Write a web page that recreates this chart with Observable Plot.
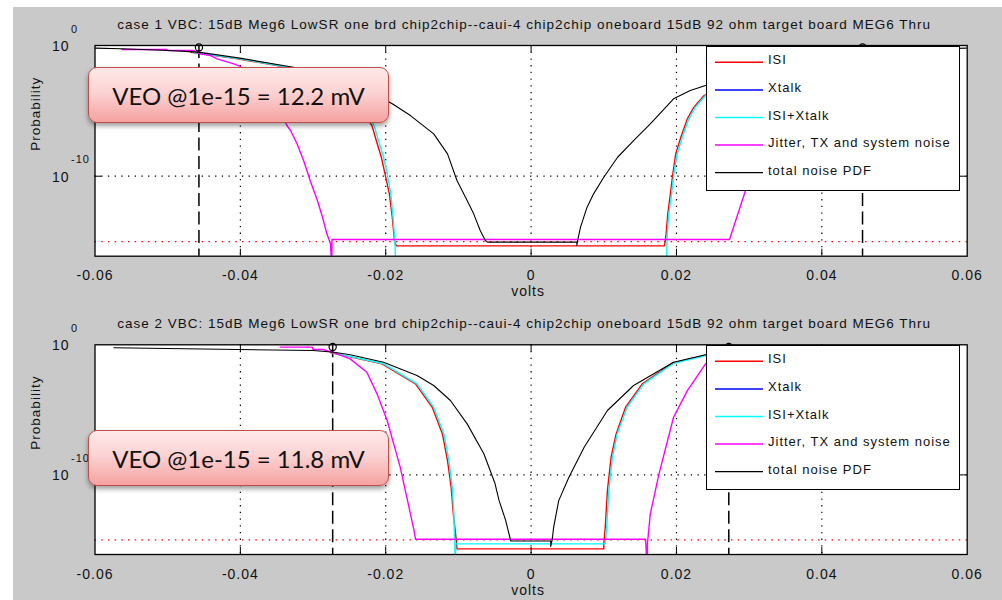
<!DOCTYPE html>
<html>
<head>
<meta charset="utf-8">
<script src="https://cdn.jsdelivr.net/npm/d3@7"></script>
<script src="https://cdn.jsdelivr.net/npm/@observablehq/plot@0.6"></script>
<style>
  body { margin: 0; width: 1002px; height: 600px; position: relative; overflow: hidden; background: #fff; font-family: "Liberation Sans", Arial, sans-serif; }
  #bg { position: absolute; left: 13px; top: 7px; right: 0; bottom: 0; background: #c9c9c9; }
  .panel { position: absolute; left: 0; width: 1002px; height: 300px; }
  .panel svg { display: block; }
  .panel svg text { letter-spacing: 1px; fill: #111; }
  .panel svg g[aria-label="title"] text { letter-spacing: 1.05px; }
  .legend { position: absolute; left: 705.7px; width: 252px; height: 143px; background: #fff; border: 1px solid #000; }
  .legend svg { display: block; }
  .legend text { font-family: "Liberation Sans", Arial, sans-serif; font-size: 13px; letter-spacing: 1px; fill: #111; }
  .callout { position: absolute; left: 88px; width: 299px; height: 54px; border: 1.6px solid #bf4e4b; border-radius: 9px;
    background: linear-gradient(#ffe9e9 0%, #fcd3d3 45%, #f5a2a1 100%);
    box-shadow: 0 3px 5px rgba(0,0,0,0.38);
    font-family: Lato, "Open Sans", sans-serif; font-size: 24px; color: #111;
    display: flex; align-items: center; justify-content: center; }
</style>
</head>
<body>
<div id="bg"></div>
<div id="p1" class="panel" style="top:0px"></div>
<div id="p2" class="panel" style="top:300px"></div>
<script>
// ---------- data (volts, log10 probability) ----------
const seriesNames  = ["ISI", "Xtalk", "ISI+Xtalk", "Jitter, TX and system noise", "total noise PDF"];
const seriesColors = ["#ff0000", "#0000ff", "#00ffff", "#ff00ff", "#000000"];
const xTicks = [-0.06, -0.04, -0.02, 0, 0.02, 0.04, 0.06];
const xTickLabels = ["-0.06", "-0.04", "-0.02", "0", "0.02", "0.04", "0.06"];
const xGrid = [-0.04, -0.02, 0, 0.02, 0.04];
const yTicks = [1, 1e-10];
const yTickExponents = ["0", "-10"];
const berTarget = [1e-15];

const titles = [
  "case 1 VBC: 15dB Meg6 LowSR one brd chip2chip--caui-4 chip2chip oneboard 15dB 92 ohm target board MEG6 Thru",
  "case 2 VBC: 15dB Meg6 LowSR one brd chip2chip--caui-4 chip2chip oneboard 15dB 92 ohm target board MEG6 Thru"
];
const veoText = ["VEO @1e-15 = 12.2 mV", "VEO @1e-15 = 11.8 mV"];

// case 1
const c1Isi = [[-0.0468,-0.52],[-0.0406,-1.00],[-0.0330,-1.72],[-0.0283,-2.70],[-0.0253,-3.80],[-0.0233,-5.00],[-0.0219,-6.12],[-0.0213,-7.27],[-0.0206,-8.55],[-0.0201,-9.82],[-0.0195,-11.35],[-0.0191,-13.14],[-0.0188,-14.92],[-0.01856,-15.33],[0.01836,-15.33],[0.01858,-14.41],[0.0188,-12.88],[0.0191,-11.61],[0.0195,-9.82],[0.0199,-8.29],[0.0206,-7.02],[0.0215,-5.61],[0.0224,-4.72],[0.0238,-3.83],[0.0278,-2.70],[0.0325,-1.72],[0.0401,-1.00],[0.0463,-0.52]];
const c1Xtalk = [];
const c1IsiXtalk = [[-0.0465,-0.52],[-0.0403,-1.00],[-0.0327,-1.72],[-0.0280,-2.70],[-0.0250,-3.80],[-0.0230,-5.00],[-0.0216,-6.12],[-0.0210,-7.27],[-0.0203,-8.55],[-0.0198,-9.82],[-0.0193,-11.35],[-0.0190,-13.14],[-0.01875,-14.92],[-0.01856,-17.5],[0.01859,-17.5],[0.01873,-14.41],[0.01895,-12.88],[0.01928,-11.61],[0.01964,-9.82],[0.0201,-8.29],[0.0208,-7.02],[0.0217,-5.61],[0.0226,-4.72],[0.0240,-3.83],[0.0280,-2.70],[0.0327,-1.72],[0.0403,-1.00],[0.0465,-0.52]];
const c1Jitter = [[-0.0563,-0.31],[-0.0501,-0.31],[-0.0500,-0.38],[-0.0465,-0.38],[-0.0455,-0.64],[-0.0441,-0.77],[-0.0432,-1.02],[-0.0409,-1.40],[-0.0401,-1.58],[-0.0380,-2.40],[-0.0360,-3.60],[-0.0345,-4.90],[-0.0336,-6.12],[-0.0331,-6.50],[-0.0322,-7.52],[-0.0313,-8.80],[-0.0304,-10.33],[-0.0294,-11.86],[-0.0287,-13.14],[-0.0281,-14.41],[-0.0276,-15.17],[-0.0274,-17.5],[-0.0274,-14.84],[0.0273,-14.84],[0.0295,-11.10],[0.0303,-9.90],[0.0312,-8.80],[0.0322,-7.52],[0.0336,-6.12],[0.0345,-4.90],[0.0360,-3.60],[0.0380,-2.40],[0.0401,-1.58],[0.0432,-1.02],[0.0455,-0.64],[0.0465,-0.38],[0.0500,-0.38],[0.0501,-0.31],[0.0563,-0.31]];
const c1Total = [[-0.0600,-0.20],[-0.0564,-0.25],[-0.0500,-0.38],[-0.0458,-0.51],[-0.0403,-0.95],[-0.0327,-1.66],[-0.0280,-2.35],[-0.0240,-3.05],[-0.0215,-3.75],[-0.0191,-4.46],[-0.0166,-5.36],[-0.0134,-6.76],[-0.0115,-8.29],[-0.0102,-10.33],[-0.0088,-11.86],[-0.0079,-12.88],[-0.0070,-14.15],[-0.0063,-14.92],[-0.0060,-15.04],[0.0063,-15.04],[0.0063,-15.30],[0.0064,-14.92],[0.0068,-13.90],[0.0077,-12.37],[0.0086,-11.35],[0.0100,-10.08],[0.0119,-8.55],[0.0141,-7.27],[0.0164,-5.99],[0.0196,-4.08],[0.0219,-3.44],[0.0240,-3.06],[0.0280,-2.35],[0.0327,-1.66],[0.0403,-0.95],[0.0458,-0.51],[0.0500,-0.38],[0.0564,-0.25],[0.0600,-0.20]];
const c1Veo = [-0.0457, 0.0456];
const c1VeoMarkerExp = -0.15;

// case 2
const c2Isi = [[-0.0276,-0.60],[-0.0205,-1.46],[-0.0159,-3.00],[-0.0136,-4.80],[-0.0122,-6.85],[-0.0115,-8.90],[-0.0110,-10.95],[-0.0107,-13.00],[-0.0103,-15.00],[-0.0102,-15.69],[0.0100,-15.69],[0.0100,-15.35],[0.0102,-14.03],[0.0105,-11.21],[0.0110,-8.65],[0.0117,-6.85],[0.0130,-4.80],[0.0153,-3.00],[0.0194,-1.42],[0.0238,-0.82],[0.0272,-0.62]];
const c2Xtalk = [];
const c2IsiXtalk = [[-0.0274,-0.60],[-0.0203,-1.46],[-0.0157,-3.00],[-0.0134,-4.80],[-0.0120,-6.85],[-0.0113,-8.90],[-0.01085,-10.95],[-0.01063,-13.00],[-0.0104,-17.5],[-0.0104,-15.30],[0.0102,-15.30],[0.0104,-14.03],[0.0107,-11.21],[0.0112,-8.65],[0.01185,-6.85],[0.0132,-4.80],[0.0155,-3.00],[0.0196,-1.42],[0.0240,-0.82],[0.0274,-0.62]];
const c2Jitter = [[-0.0345,-0.18],[-0.0301,-0.18],[-0.0300,-0.36],[-0.0286,-0.36],[-0.0271,-0.62],[-0.0249,-1.08],[-0.0226,-2.11],[-0.0212,-3.77],[-0.0198,-5.82],[-0.0180,-9.42],[-0.0161,-14.28],[-0.0159,-14.95],[0.01575,-14.95],[0.0160,-17.5],[0.0160,-15.30],[0.0164,-13.00],[0.0176,-9.92],[0.0196,-5.57],[0.0215,-3.52],[0.0240,-1.46],[0.0258,-0.95],[0.0273,-0.62],[0.0286,-0.36],[0.0300,-0.36],[0.0301,-0.18],[0.0345,-0.18]];
const c2Total = [[-0.0574,-0.23],[-0.0300,-0.44],[-0.0271,-0.57],[-0.0249,-0.77],[-0.0203,-1.34],[-0.0157,-2.36],[-0.0134,-3.13],[-0.0111,-4.28],[-0.0088,-6.08],[-0.0065,-8.38],[-0.0050,-10.60],[-0.0044,-11.98],[-0.0035,-13.50],[-0.0028,-15.08],[0.0027,-15.08],[0.0027,-15.50],[0.0029,-15.00],[0.0031,-14.03],[0.0038,-11.98],[0.0052,-10.18],[0.0073,-7.88],[0.0105,-5.05],[0.0141,-3.13],[0.0196,-1.34],[0.0240,-0.77],[0.0273,-0.57],[0.0320,-0.44],[0.0574,-0.23]];
const c2Veo = [-0.0273, 0.0272];
const c2VeoMarkerExp = -0.17;

// ---------- drawing ----------
const toPts = arr => arr.map(([v, e]) => ({v, p: Math.pow(10, e)}));

function panel(el, cfg) {
  const W = 1002, H = 300;
  const mL = 94.5, mR = W - 966.7, mT = cfg.top, mB = H - cfg.bottom;
  const fw = W - mL - mR, fh = H - mT - mB;
  const series = cfg.series;
  const marks = [
    Plot.frame({fill: "white", stroke: null}),
    Plot.ruleX(xGrid, {x: d => d, stroke: "#000", strokeWidth: 1.2, strokeDasharray: "1.3,5.4"}),
    Plot.ruleY(yTicks.slice(1), {y: d => d, stroke: "#000", strokeWidth: 1.2, strokeDasharray: "1.3,5.4"}),
    Plot.ruleY(berTarget, {y: d => d, stroke: "#ff0000", strokeWidth: 1.2, strokeDasharray: "1.5,5.2"}),
    Plot.ruleX(cfg.veo, {x: d => d, stroke: "#000", strokeWidth: 1.5, strokeDasharray: "13,5.5"}),
  ];
  series.forEach((s, i) => {
    marks.push(Plot.line(toPts(s), {x: "v", y: "p", stroke: seriesColors[i], strokeWidth: i === 4 ? 1.1 : 1.4, clip: true}));
  });
  marks.push(
    Plot.dot(cfg.veo, {x: d => d, y: () => Math.pow(10, cfg.markerExp), r: 3.6, stroke: "#000", strokeWidth: 1.2, fill: "none"}),
    Plot.ruleX(xGrid, {x: d => d, insetTop: fh - 7, stroke: "#000"}),
    Plot.ruleX(xGrid, {x: d => d, insetBottom: fh - 7, stroke: "#000"}),
    Plot.ruleY(yTicks.slice(1), {y: d => d, insetRight: fw - 7, stroke: "#000"}),
    Plot.ruleY(yTicks.slice(1), {y: d => d, insetLeft: fw - 7, stroke: "#000"}),
    Plot.frame({stroke: "#000", strokeWidth: 1.3}),
    Plot.text(xTicks, {x: d => d, text: (d, i) => xTickLabels[i], frameAnchor: "bottom", lineAnchor: "bottom", dy: cfg.xLabelDy, fontSize: 14}),
    Plot.text(yTicks, {y: d => d, text: () => "10", frameAnchor: "left", textAnchor: "end", lineAnchor: "bottom", dx: -25.5, dy: 5.5, fontSize: 14}),
    Plot.text(yTicks, {y: d => d, text: (d, i) => yTickExponents[i], frameAnchor: "left", textAnchor: "start", lineAnchor: "bottom", dx: -24, dy: -13, fontSize: 11}),
    Plot.text(["Probability"], {frameAnchor: "left", rotate: -90, dx: -59, fontSize: 13.5, lineAnchor: "middle"}),
    Plot.text(["volts"], {frameAnchor: "bottom", lineAnchor: "bottom", dx: -3, dy: cfg.xLabelDy + 16, fontSize: 14}),
    Plot.text([cfg.title], {frameAnchor: "top", lineAnchor: "bottom", dx: -7, dy: -16.5, fontSize: 13.5, ariaLabel: "title"})
  );
  const svg = Plot.plot({
    width: W, height: H,
    marginLeft: mL, marginRight: mR, marginTop: mT, marginBottom: mB,
    x: {domain: [-0.06, 0.06], axis: null},
    y: {type: "log", domain: [Math.pow(10, -16.12), 1], axis: null},
    style: {background: "transparent", fontFamily: "'Liberation Sans', Arial, sans-serif", overflow: "visible"},
    marks
  });
  el.appendChild(svg);

  const lg = d3.select(el).append("div").attr("class", "legend").style("top", (cfg.top + 0.7) + "px");
  const ls = lg.append("svg").attr("width", 252).attr("height", 143);
  seriesNames.forEach((name, i) => {
    const y = 15.3 + 27.6 * i;
    ls.append("line").attr("x1", 8).attr("x2", 56).attr("y1", y).attr("y2", y).attr("stroke", seriesColors[i]).attr("stroke-width", i === 4 ? 1.3 : 1.5);
    ls.append("text").attr("x", 61).attr("y", y + 2).text(name);
  });

  d3.select(el).append("div").attr("class", "callout").style("top", cfg.calloutTop + "px").text(cfg.veoText);
}

panel(document.getElementById("p1"), {
  top: 45, bottom: 255.7, xLabelDy: 23.6, title: titles[0], veoText: veoText[0],
  series: [c1Isi, c1Xtalk, c1IsiXtalk, c1Jitter, c1Total], veo: c1Veo, markerExp: c1VeoMarkerExp, calloutTop: 67
});
panel(document.getElementById("p2"), {
  top: 44.3, bottom: 254, xLabelDy: 24.3, title: titles[1], veoText: veoText[1],
  series: [c2Isi, c2Xtalk, c2IsiXtalk, c2Jitter, c2Total], veo: c2Veo, markerExp: c2VeoMarkerExp, calloutTop: 130
});
</script>
</body>
</html>
